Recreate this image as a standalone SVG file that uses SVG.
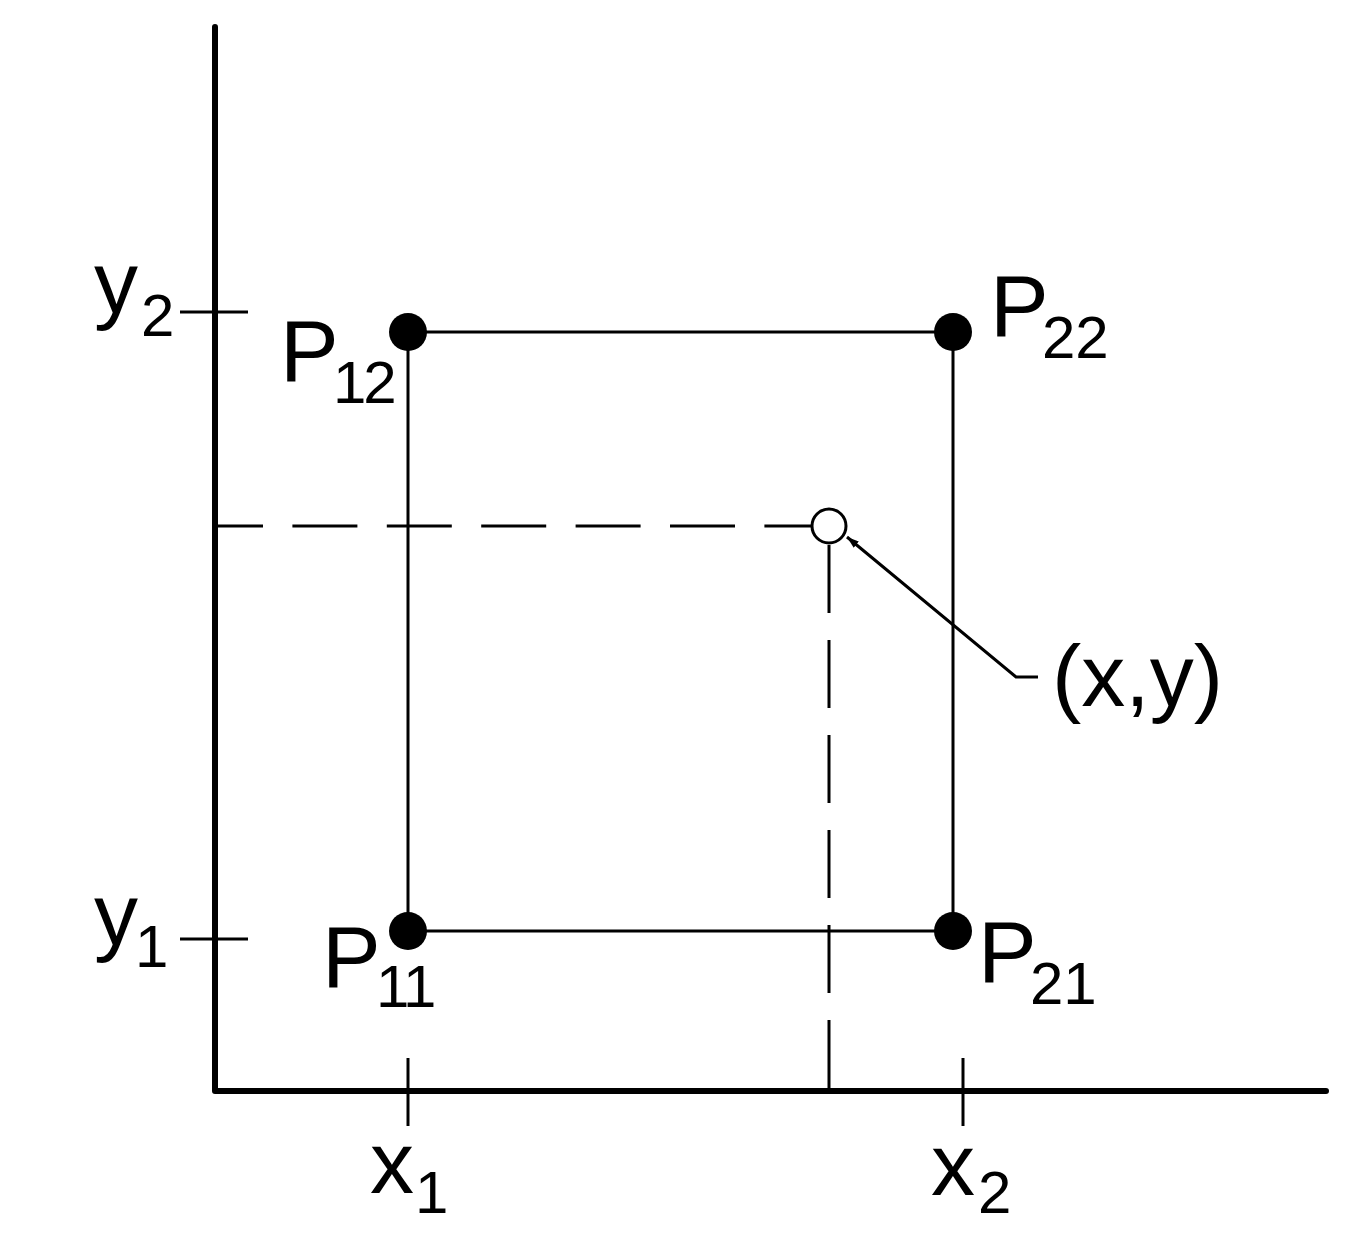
<svg xmlns="http://www.w3.org/2000/svg" width="1365" height="1240" viewBox="0 0 1365 1240">
<style>
.ln{stroke:#000;stroke-width:3;fill:none}
.ax{stroke:#000;stroke-width:6;fill:none;stroke-linecap:round;stroke-linejoin:round}
.dash{stroke:#000;stroke-width:3;fill:none}
.dot{fill:#000}
.t{font-family:"Liberation Sans",Arial,sans-serif;font-size:88px;fill:#000}
.s{font-family:"Liberation Sans",Arial,sans-serif;font-size:60px;fill:#000}
</style>
<defs>
<marker id="arr" viewBox="0 0 12 8" refX="12" refY="4" markerWidth="12" markerHeight="8" markerUnits="userSpaceOnUse" orient="auto">
<path d="M0,0 L12,4 L0,8 Z" fill="#000"/>
</marker>
</defs>
<rect width="1365" height="1240" fill="#fff"/>
<g id="axes">
<polyline class="ax" points="215,27 215,1091 1326,1091"/>
<line class="ln" x1="180" y1="312" x2="248" y2="312"/>
<line class="ln" x1="180" y1="939" x2="248" y2="939"/>
<line class="ln" x1="408" y1="1058" x2="408" y2="1126"/>
<line class="ln" x1="963" y1="1058" x2="963" y2="1126"/>
</g>
<g id="connectors">
<line class="ln" x1="408" y1="332" x2="953" y2="332"/>
<line class="ln" x1="408" y1="931" x2="953" y2="931"/>
<line class="ln" x1="408" y1="332" x2="408" y2="931"/>
<line class="ln" x1="953" y1="332" x2="953" y2="931"/>
<line class="dash" x1="218" y1="526" x2="812" y2="526" stroke-dasharray="65 29.4" stroke-dashoffset="20"/>
<line class="dash" x1="829" y1="543" x2="829" y2="1090" stroke-dasharray="68 27" stroke-dashoffset="-2"/>
<polyline class="ln" points="1038,677 1016,677 847,537" marker-end="url(#arr)"/>
</g>
<g id="P12"><circle class="dot" cx="408" cy="332" r="19"/><text class="t" x="280" y="381">P</text><text class="s" x="333" y="403" letter-spacing="-3">12</text></g>
<g id="P22"><circle class="dot" cx="953" cy="332" r="19"/><text class="t" x="990" y="336">P</text><text class="s" x="1042" y="358">22</text></g>
<g id="P11"><circle class="dot" cx="408" cy="931" r="19"/><text class="t" x="322" y="987">P</text><text class="s" x="376" y="1007" letter-spacing="-2">11</text></g>
<g id="P21"><circle class="dot" cx="953" cy="931" r="19"/><text class="t" x="978" y="982">P</text><text class="s" x="1030" y="1004">21</text></g>
<g id="xy"><circle cx="829" cy="526" r="17" fill="#fff" stroke="#000" stroke-width="3"/><text class="t" x="1052" y="706">(x,y)</text></g>
<g id="labels">
<text class="t" x="94" y="313">y</text><text class="s" x="141" y="336">2</text>
<text class="t" x="94" y="945">y</text><text class="s" x="135" y="967">1</text>
<text class="t" x="370" y="1193">x</text><text class="s" x="415" y="1213">1</text>
<text class="t" x="931" y="1195">x</text><text class="s" x="978" y="1213">2</text>
</g>
</svg>
